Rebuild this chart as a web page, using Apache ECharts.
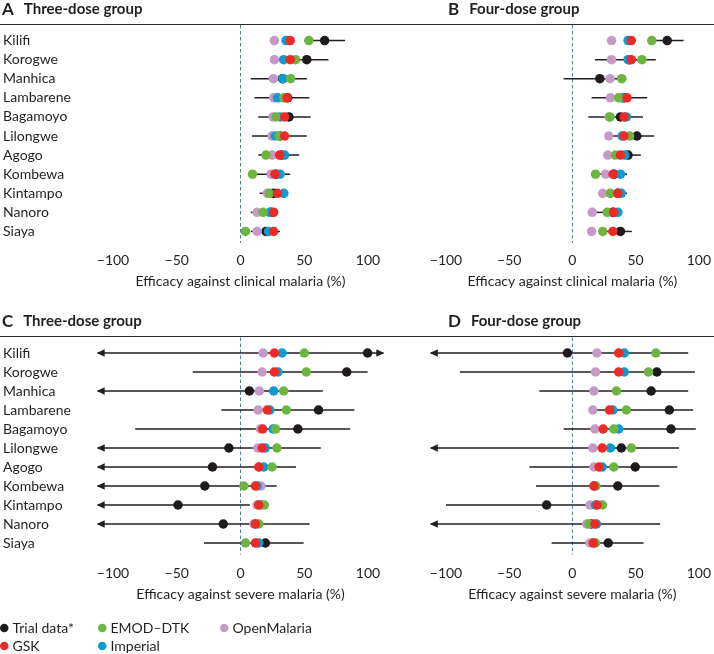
<!DOCTYPE html>
<html>
<head>
<meta charset="utf-8">
<script src="https://cdn.jsdelivr.net/npm/echarts@6/dist/echarts.min.js"></script>
<style>
html, body { margin: 0; padding: 0; background: #fff; }
#chart { width: 714px; height: 654px; }
</style>
</head>
<body>
<div id="chart"></div>
<script>
// sites, top to bottom
const sites = ['Kilifi', 'Korogwe', 'Manhica', 'Lambarene', 'Bagamoyo', 'Lilongwe', 'Agogo', 'Kombewa', 'Kintampo', 'Nanoro', 'Siaya'];
const tickValues = [-100, -50, 0, 50, 100];

// A: three-dose, clinical malaria (null bound = off the scale, drawn as an arrow)
const trialA = [66, 52, 33, 37, 38, 31, 32, 28, 26, 24, 20];
const lowA = [50, 30, 8, 11, 14, 9, 14, 9, 15, 8, 8];
const highA = [82, 69, 52, 54, 55, 52, 46, 39, 35, 27, 31];
const gskA = [39, 39, null, 36.5, 34.6, 34.6, 30.7, 27, 29, 26, 26];
const emodA = [53.6, 43.2, 39.3, 33.9, 27.9, 30.2, 20, 9.4, 22.6, 17.7, 3.9];
const imperialA = [35.7, 33.9, 33.3, 29, 31.3, 27.3, 34.6, 31, 34, 23, 22];
const openA = [26.6, 26.6, 25.8, 26, 25.5, 24.7, 24.7, 24, 21, 13, 13];

// B: four-dose, clinical malaria
const trialB = [75, 45, 21.7, 40.6, 38, 51, 44, 33, 36, 32, 38];
const lowB = [60, 17.8, -7, 15.2, 12.6, 31, 32, 19, 30, 17, 26];
const highB = [88, 66, 42.7, 59.2, 55.8, 64.7, 54.2, 43.2, 43.2, 38, 47];
const gskB = [46.6, 46.6, null, 43.2, 41, 40.8, 38, 32.2, 35.9, 32.7, 32];
const emodB = [62.8, 55, 39, 36.6, 29.8, 45.3, 34, 18.3, 30, 27.5, 24];
const imperialB = [44, 44, null, 39.8, 42.7, 39.3, 41.4, 38, 38.7, 36, null];
const openB = [30.9, 30.9, 29.8, 30.1, 29, 28.8, 28, 26.2, 24, 15.7, 15.2];

// C: three-dose, severe malaria
const trialC = [99.7, 83.3, 7, 61.2, 45, -9.1, -22, -28, -49, -13.5, 19.5];
const lowC = [null, -37.5, null, -15, -82.6, null, null, null, null, null, -28.6];
const highC = [null, 99.7, 64.6, 89.3, 86, 63, 43.5, 28.4, 7.3, 54.2, 49.5];
const gskC = [26.6, 26.6, null, 21, 17.4, 17, 14.3, 11.7, 14.3, 11.7, 11.7];
const emodC = [50, 51.6, 33.9, 36, 27.6, 28.6, 24.7, 2.6, 18.7, 14.3, 3.9];
const imperialC = [32.6, 29.4, 26, 23, 25.5, 19.5, 18.2, 13, 16, 12, 14.3];
const openC = [17.7, 17, 14.8, 13.8, 15.6, 13.5, 15, 16.1, 13, 10.4, 13];

// D: four-dose, severe malaria
const trialD = [-3.9, 66.8, 62.3, 76.7, 78, 38.7, 49.7, 35.9, -20.4, 15, 28.3];
const lowD = [null, -89, -26.2, 14, -7, null, -34, -28.8, -100, null, -16.5];
const highD = [91.6, 96.9, 91.6, 95.5, 97.6, 84.3, 83, 68.8, 27, 69.4, 56.3];
const gskD = [36.6, 36.6, null, 29.3, 24.3, 23.6, 21, 17, 19.6, 17.8, 16.5];
const emodD = [66, 60.2, 34.8, 42.7, 32.7, 46.6, 32.7, 18.6, 23.8, 13.1, 18.3];
const imperialD = [41, 41, null, 32, 36.6, 30.1, 23.6, 17.5, 18.3, 19.1, 17];
const openD = [19.4, 18.3, 17, 16.2, 17.8, 16.2, 17, 17, 13.9, 11.3, 13.9];

const FONT = 'Lato';
const INK = '#231f20';
const ARROW_AT = 112; // off-scale intervals end here, in %

const colors = {
  'Trial data*': '#1f1b1c',
  'GSK': '#ee2a27',
  'EMOD–DTK': '#6cb540',
  'Imperial': '#0f9bd0',
  'OpenMalaria': '#c69ac6'
};

const panels = [
  { trial: trialA, low: lowA, high: highA, gsk: gskA, emod: emodA, imp: imperialA, open: openA, axisName: 'Efficacy against clinical malaria (%)' },
  { trial: trialB, low: lowB, high: highB, gsk: gskB, emod: emodB, imp: imperialB, open: openB, axisName: 'Efficacy against clinical malaria (%)' },
  { trial: trialC, low: lowC, high: highC, gsk: gskC, emod: emodC, imp: imperialC, open: openC, axisName: 'Efficacy against severe malaria (%)' },
  { trial: trialD, low: lowD, high: highD, gsk: gskD, emod: emodD, imp: imperialD, open: openD, axisName: 'Efficacy against severe malaria (%)' }
];

const grids = [
  { left: 112, top: 31, width: 256, height: 210 },
  { left: 446, top: 31, width: 256, height: 210 },
  { left: 112, top: 343.5, width: 256, height: 209 },
  { left: 446, top: 343.5, width: 256, height: 209 }
];

function points (arr) {
  return arr.map((v, i) => (v === null ? null : [v, i])).filter(d => d);
}

const series = [];
panels.forEach((p, k) => {
  // dashed line at zero efficacy
  series.push({
    type: 'custom',
    xAxisIndex: k,
    yAxisIndex: k,
    silent: true,
    z: 1,
    data: [[0, 0]],
    encode: { x: 0, y: 1 },
    renderItem (params, api) {
      const cs = params.coordSys;
      const x = api.coord([api.value(0), 0])[0];
      return {
        type: 'line',
        shape: { x1: x, y1: cs.y - 6, x2: x, y2: cs.y + cs.height + 2 },
        style: { stroke: '#4f7d92', lineWidth: 1, lineDash: [3.5, 2.5] }
      };
    }
  });
  // trial confidence intervals
  series.push({
    type: 'custom',
    xAxisIndex: k,
    yAxisIndex: k,
    silent: true,
    z: 2,
    data: sites.map((s, i) => [
      p.low[i] === null ? -ARROW_AT : p.low[i],
      p.high[i] === null ? ARROW_AT : p.high[i],
      i,
      p.low[i] === null ? 1 : 0,
      p.high[i] === null ? 1 : 0
    ]),
    encode: { x: [0, 1], y: 2 },
    renderItem (params, api) {
      const a = api.coord([api.value(0), api.value(2)]);
      const b = api.coord([api.value(1), api.value(2)]);
      const kids = [{
        type: 'line',
        shape: { x1: a[0], y1: a[1], x2: b[0], y2: b[1] },
        style: { stroke: INK, lineWidth: 1.5 }
      }];
      if (api.value(3)) {
        kids.push({ type: 'polygon', shape: { points: [[a[0] - 1, a[1]], [a[0] + 7, a[1] - 3.8], [a[0] + 7, a[1] + 3.8]] }, style: { fill: INK } });
      }
      if (api.value(4)) {
        kids.push({ type: 'polygon', shape: { points: [[b[0] + 1, b[1]], [b[0] - 7, b[1] - 3.8], [b[0] - 7, b[1] + 3.8]] }, style: { fill: INK } });
      }
      return { type: 'group', children: kids };
    }
  });
  const layers = [
    ['Trial data*', p.trial],
    ['OpenMalaria', p.open],
    ['Imperial', p.imp],
    ['EMOD–DTK', p.emod],
    ['GSK', p.gsk]
  ];
  layers.forEach(([name, arr], j) => {
    series.push({
      name: name,
      type: 'scatter',
      xAxisIndex: k,
      yAxisIndex: k,
      z: 3 + j,
      symbol: 'circle',
      symbolSize: 9.5,
      itemStyle: { color: colors[name], opacity: 1 },
      data: points(arr)
    });
  });
});

const textStyle = { color: INK, fontFamily: FONT, fontSize: 14 };

const option = {
  animation: false,
  backgroundColor: '#fff',
  textStyle: { fontFamily: FONT },
  title: [
    ['A', 'Three-dose group', 2, 1],
    ['B', 'Four-dose group', 448, 1],
    ['C', 'Three-dose group', 2, 313],
    ['D', 'Four-dose group', 448, 313]
  ].map(([l, t, x, y]) => ({
    text: '{l|' + l + '}{t|' + t + '}',
    left: x,
    top: y,
    padding: 0,
    textStyle: {
      rich: {
        l: { fontFamily: FONT, fontSize: 17, fontWeight: 'bold', color: INK, padding: [0, 10, 0, 0] },
        t: { fontFamily: FONT, fontSize: 15, fontWeight: 'bold', color: INK }
      }
    }
  })),
  graphic: [
    { type: 'line', shape: { x1: 0, y1: 24.5, x2: 714, y2: 24.5 }, style: { stroke: '#2b2b2b', lineWidth: 1.2 } },
    { type: 'line', shape: { x1: 0, y1: 336.5, x2: 714, y2: 336.5 }, style: { stroke: '#2b2b2b', lineWidth: 1.2 } }
  ],
  legend: [
    { data: ['Trial data*', 'GSK'], left: 0 },
    { data: ['EMOD–DTK', 'Imperial'], left: 98 },
    { data: ['OpenMalaria'], left: 220 }
  ].map(l => ({
    ...l,
    top: 621,
    orient: 'vertical',
    padding: 0,
    itemGap: 4,
    itemWidth: 8.5,
    itemHeight: 8.5,
    icon: 'circle',
    selectedMode: false,
    textStyle: { ...textStyle, padding: [0, 0, 0, -1] }
  })),
  grid: grids,
  xAxis: panels.map((p, k) => ({
    type: 'value',
    gridIndex: k,
    min: tickValues[0],
    max: tickValues[tickValues.length - 1],
    interval: 50,
    offset: k < 2 ? 2 : 4,
    name: p.axisName,
    nameLocation: 'middle',
    nameGap: 31,
    nameTextStyle: textStyle,
    axisLine: { lineStyle: { color: INK, width: 1.4 } },
    axisTick: { length: 5, lineStyle: { color: INK, width: 1.4 } },
    splitLine: { show: false },
    axisLabel: {
      ...textStyle,
      margin: 10,
      formatter: v => (v < 0 ? '\u2212' + Math.abs(v) : String(v))
    }
  })),
  yAxis: panels.map((p, k) => ({
    type: 'category',
    gridIndex: k,
    data: sites,
    inverse: true,
    axisLine: { show: false },
    axisTick: { show: false },
    splitLine: { show: false },
    axisLabel: {
      show: k % 2 === 0,
      ...textStyle,
      align: 'left',
      margin: 110
    }
  })),
  series: series
};

const chart = echarts.init(document.getElementById('chart'));
chart.setOption(option);
</script>
</body>
</html>
